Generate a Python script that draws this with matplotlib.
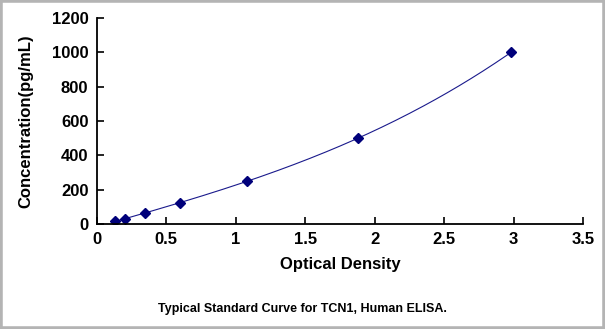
import matplotlib.pyplot as plt
import numpy as np
from matplotlib.patches import Rectangle

plt.rcParams['font.family'] = ['Liberation Sans', 'DejaVu Sans']

od = [0.13, 0.205, 0.345, 0.60, 1.08, 1.88, 2.98]
conc = [15.6, 31.25, 62.5, 125, 250, 500, 1000]

fig = plt.figure(figsize=(6.05, 3.29), dpi=100)
ax = fig.add_axes([0.160, 0.319, 0.804, 0.626])

# fitted curve through the standards
coef = np.polyfit(od, conc, 3)
xs = np.linspace(min(od), max(od), 200)
ax.plot(xs, np.polyval(coef, xs), color='#1a1a8c', linewidth=0.8)
ax.plot(od, conc, linestyle='none', marker='D', markersize=5, color='#00007a')

ax.set_xlim(0, 3.5)
ax.set_ylim(0, 1200)
ax.set_xticks(np.arange(0, 3.51, 0.5))
ax.set_xticklabels(['0', '0.5', '1', '1.5', '2', '2.5', '3', '3.5'])
ax.set_yticks(np.arange(0, 1201, 200))
ax.tick_params(direction='in', length=5, width=1.2, labelsize=12, pad=6)
for lab in ax.get_xticklabels() + ax.get_yticklabels():
    lab.set_fontweight('bold')

ax.spines['right'].set_visible(False)
ax.spines['top'].set_visible(False)
ax.spines['left'].set_linewidth(1.3)
ax.spines['bottom'].set_linewidth(1.3)

ax.set_xlabel('Optical Density', fontsize=12, weight='bold', labelpad=7)
ax.set_ylabel('Concentration(pg/mL)', fontsize=12, weight='bold', labelpad=13)

fig.text(0.5, 0.06, 'Typical Standard Curve for TCN1, Human ELISA.',
         ha='center', va='center', fontsize=9, weight='bold')

fig.patches.append(Rectangle((0, 0), 1, 1, transform=fig.transFigure,
                             fill=False, edgecolor='#b4b4b4', linewidth=4))

plt.savefig('out.png', dpi=100)
